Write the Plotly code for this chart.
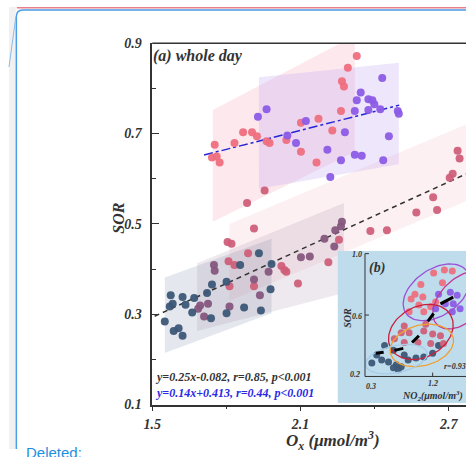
import numpy as np
import plotly.graph_objects as go

W, H = 466, 457

# ---------------- Panel (a): whole day ----------------
pink_x = [1.753, 1.742, 1.761, 1.773, 1.833, 1.868, 1.904, 1.924, 1.963, 1.975, 2.043, 2.102,
          2.173, 2.229, 2.165, 2.102, 2.264, 2.328, 2.292, 2.268, 2.276]
pink_y = [0.675, 0.647, 0.649, 0.636, 0.679, 0.703, 0.703, 0.694, 0.683, 0.679, 0.686, 0.724,
          0.733, 0.707, 0.636, 0.660, 0.750, 0.872, 0.846, 0.816, 0.804]

purple_x = [1.928, 1.963, 2.122, 2.047, 2.082, 2.209, 2.221, 2.264, 2.431, 2.344, 2.328, 2.375,
            2.391, 2.399, 2.320, 2.375, 2.423, 2.494, 2.498, 2.280, 2.458, 2.320, 2.348, 2.435]
purple_y = [0.737, 0.754, 0.728, 0.696, 0.679, 0.664, 0.604, 0.641, 0.823, 0.791, 0.774, 0.776,
            0.774, 0.765, 0.750, 0.752, 0.754, 0.750, 0.744, 0.703, 0.694, 0.653, 0.651, 0.641]

navy_x = [1.932, 1.856, 1.983, 1.801, 1.979, 1.940, 1.872, 1.801, 1.742, 1.722, 1.670, 1.623,
          1.575, 1.583, 1.571, 1.635, 1.662, 1.551, 1.587, 1.607, 1.623, 1.738]
navy_y = [0.435, 0.409, 0.411, 0.372, 0.355, 0.308, 0.315, 0.302, 0.366, 0.347, 0.336, 0.338,
          0.342, 0.323, 0.317, 0.321, 0.304, 0.284, 0.263, 0.269, 0.252, 0.291]

mauve_x = [1.750, 1.753, 1.912, 1.936, 1.971, 1.686, 1.694, 1.726, 1.710, 1.813, 2.197, 2.241,
           2.264, 2.237, 2.102, 2.138, 2.268]
mauve_y = [0.409, 0.396, 0.377, 0.342, 0.394, 0.312, 0.319, 0.323, 0.295, 0.317, 0.467, 0.486,
           0.495, 0.450, 0.426, 0.428, 0.505]

rose_x = [1.955, 1.884, 1.912, 1.805, 1.821, 1.888, 1.809, 1.833, 2.023, 2.035, 2.043, 2.090,
          1.912, 1.813, 2.213, 2.256, 2.383, 2.450, 2.569, 2.653, 2.637, 2.704, 2.716, 2.736, 2.744]
rose_y = [0.574, 0.546, 0.490, 0.460, 0.456, 0.435, 0.417, 0.409, 0.407, 0.398, 0.394, 0.368,
          0.362, 0.362, 0.415, 0.465, 0.484, 0.486, 0.525, 0.531, 0.559, 0.602, 0.611, 0.662, 0.645]

# regression lines read from the printed equations: slope, intercept, x extent
fit_black = dict(slope=0.25, icpt=-0.082, x0=1.51, x1=2.77)
fit_blue = dict(slope=0.14, icpt=0.413, x0=1.71, x1=2.50)

# shaded parallelogram bands: x0, x1, top at x0, top at x1, bottom at x0, bottom at x1
band_x0 = [1.813, 1.7455, 1.932, 1.551, 1.682]
band_x1 = [2.770, 2.320, 2.498, 1.983, 2.276]
band_t0 = [0.500, 0.752, 0.825, 0.381, 0.413]
band_t1 = [0.720, 0.917, 0.857, 0.467, 0.546]
band_b0 = [0.330, 0.505, 0.578, 0.214, 0.263]
band_b1 = [0.550, 0.660, 0.632, 0.302, 0.347]
band_col = ['rgba(245,185,198,0.22)', 'rgba(248,190,202,0.35)', 'rgba(195,165,240,0.28)',
            'rgba(120,140,170,0.20)', 'rgba(140,110,140,0.15)']

x_ticks = [1.5, 2.1, 2.7]
x_minor = [1.8, 2.4]
y_ticks = [0.1, 0.3, 0.5, 0.7, 0.9]
y_minor = [0.2, 0.4, 0.6, 0.8]

# ---------------- Inset (b) ----------------
in_pink_x = [1.213, 1.356, 1.461, 1.043, 0.965, 0.913, 1.069, 1.239, 1.174, 1.017, 0.887, 1.082, 1.330]
in_pink_y = [0.874, 0.893, 0.887, 0.799, 0.736, 0.704, 0.717, 0.685, 0.654, 0.666, 0.622, 0.622, 0.811]
in_purple_x = [1.278, 1.435, 1.526, 1.369, 1.474, 1.239, 1.565, 1.461]
in_purple_y = [0.736, 0.748, 0.729, 0.673, 0.673, 0.641, 0.641, 0.622]
in_rose_x = [0.782, 0.887, 1.082, 1.200, 1.304, 0.691, 0.822, 1.004, 1.174, 1.343, 0.822, 1.108]
in_rose_y = [0.484, 0.484, 0.496, 0.477, 0.465, 0.446, 0.421, 0.421, 0.414, 0.414, 0.528, 0.540]
in_navy_x = [0.456, 0.522, 0.613, 0.717, 0.678, 0.782, 0.874, 0.978, 1.082, 1.200, 0.561, 0.678,
             0.822, 1.278, 0.743, 0.391]
in_navy_y = [0.339, 0.307, 0.295, 0.276, 0.257, 0.263, 0.307, 0.320, 0.326, 0.351, 0.402, 0.370,
             0.339, 0.402, 0.244, 0.288]
# mean-shift arrows (start x, start y, end x, end y)
arr_x0 = [0.443, 0.691, 0.926, 1.135, 1.304]
arr_y0 = [0.351, 0.370, 0.421, 0.559, 0.673]
arr_x1 = [0.548, 0.809, 1.017, 1.213, 1.474]
arr_y1 = [0.357, 0.383, 0.465, 0.610, 0.717]
# ellipses: centre (data), semi-axes (px), tilt (deg), colour
ell_cx = [1.252, 1.591, 1.043, 1.056, 0.717]
ell_cy = [0.748, 0.698, 0.490, 0.402, 0.313]
ell_a = [38, 36, 35, 33, 32]
ell_b = [24, 22, 26, 21, 14]
ell_ang = [35, 45, 30, 15, 12]
ell_col = ['#9b4fd6', '#c0399a', '#c8203c', '#f0a030', '#a8cbe8']

C_PINK, C_PURPLE, C_NAVY, C_MAUVE, C_ROSE = '#ee6f80', '#8c5ce6', '#3c5777', '#86567e', '#cf5f79'

# ---------------- geometry ----------------
def px(x):
    return x / W

def py(y):
    return 1 - y / H

main_xr = [1.5, 2.770]
main_yr = [0.1, 0.9]
in_xr = [-0.0652, 1.6434]
in_yr = [0.0268, 1.0189]
SX = (in_xr[1] - in_xr[0]) / (W - 335)
SY = (in_yr[1] - in_yr[0]) / (409.5 - 252)

fig = go.Figure()

for i in range(len(band_x0)):
    fig.add_trace(go.Scatter(
        x=[band_x0[i], band_x1[i], band_x1[i], band_x0[i]],
        y=[band_t0[i], band_t1[i], band_b1[i], band_b0[i]],
        fill='toself', fillcolor=band_col[i], mode='lines', line=dict(width=0),
        hoverinfo='skip', showlegend=False))

for f, col, dash in [(fit_black, '#333333', '5px,4px'), (fit_blue, '#2626d6', 'dashdot')]:
    xs = [f['x0'], f['x1']]
    fig.add_trace(go.Scatter(x=xs, y=[f['slope'] * v + f['icpt'] for v in xs], mode='lines',
                             line=dict(color=col, width=1.5, dash=dash), showlegend=False))

def pts(x, y, c, xa='x', ya='y', size=8):
    fig.add_trace(go.Scatter(x=x, y=y, mode='markers', xaxis=xa, yaxis=ya, showlegend=False,
                             marker=dict(size=size, color=c, line=dict(width=0), opacity=0.95)))

pts(pink_x, pink_y, C_PINK)
pts(purple_x, purple_y, C_PURPLE)
pts(rose_x, rose_y, C_ROSE)
pts(mauve_x, mauve_y, C_MAUVE)
pts(navy_x, navy_y, C_NAVY)

# inset background
fig.add_trace(go.Scatter(x=[in_xr[0], in_xr[1], in_xr[1], in_xr[0]],
                         y=[in_yr[0], in_yr[0], in_yr[1], in_yr[1]],
                         fill='toself', fillcolor='#bedcec', mode='lines', line=dict(width=0),
                         xaxis='x2', yaxis='y2', hoverinfo='skip', showlegend=False))

pts(in_navy_x, in_navy_y, C_NAVY, 'x2', 'y2', 7)
pts(in_rose_x, in_rose_y, C_ROSE, 'x2', 'y2', 7)
pts(in_pink_x, in_pink_y, C_PINK, 'x2', 'y2', 7)
pts(in_purple_x, in_purple_y, C_PURPLE, 'x2', 'y2', 7)

t = np.linspace(0, 2 * np.pi, 90)
for i in range(len(ell_cx)):
    th = np.radians(ell_ang[i])
    dx = ell_a[i] * np.cos(t) * np.cos(th) - ell_b[i] * np.sin(t) * np.sin(th)
    dy = ell_a[i] * np.cos(t) * np.sin(th) + ell_b[i] * np.sin(t) * np.cos(th)
    fig.add_trace(go.Scatter(x=ell_cx[i] + dx * SX, y=ell_cy[i] + dy * SY, mode='lines',
                             line=dict(color=ell_col[i], width=1.3), xaxis='x2', yaxis='y2',
                             hoverinfo='skip', showlegend=False))

for i in range(len(arr_x0)):
    fig.add_trace(go.Scatter(x=[arr_x0[i], arr_x1[i]], y=[arr_y0[i], arr_y1[i]], mode='lines',
                             line=dict(color='black', width=3), xaxis='x2', yaxis='y2',
                             hoverinfo='skip', showlegend=False))

AX = '#333333'
tfont = dict(family='Liberation Serif', size=14, color=AX, weight='bold', style='italic')

fig.update_layout(
    width=W, height=H, margin=dict(l=0, r=0, t=0, b=0),
    paper_bgcolor='white', plot_bgcolor='rgba(0,0,0,0)', showlegend=False,
    xaxis=dict(domain=[px(146), 1], range=main_xr, tickvals=x_ticks, ticktext=[str(v) for v in x_ticks],
               ticks='outside', ticklen=5, tickwidth=1.3, tickcolor=AX, showline=True, linecolor=AX,
               linewidth=1.5, showgrid=False, zeroline=False, tickfont=tfont, anchor='y',
               ticklabelstandoff=1,
               minor=dict(tickvals=x_minor, ticks='outside', ticklen=3, tickcolor=AX, showgrid=False)),
    yaxis=dict(domain=[py(411), py(37.5)], range=main_yr, tickvals=y_ticks,
               ticktext=[str(v) for v in y_ticks],
               ticks='inside', ticklen=7, tickwidth=1.3, tickcolor=AX, showline=True, linecolor=AX,
               linewidth=1.5, showgrid=False, zeroline=False, tickfont=tfont, anchor='x',
               ticklabelstandoff=6,
               minor=dict(tickvals=y_minor, ticks='inside', ticklen=4, tickcolor=AX, showgrid=False)),
    xaxis2=dict(domain=[px(335), 1], range=in_xr, visible=False, anchor='y2'),
    yaxis2=dict(domain=[py(409.5), py(252)], range=in_yr, visible=False, anchor='x2'),
)

shapes = [
    # page chrome
    dict(type='rect', xref='paper', yref='paper', x0=0, x1=px(7), y0=0, y1=1,
         fillcolor='#f1f1f1', line=dict(width=0), layer='below'),
    dict(type='line', xref='paper', yref='paper', x0=px(8), x1=1, y0=py(0.7), y1=py(0.7),
         line=dict(color='#e8808a', width=1.5)),
    dict(type='path', xref='paper', yref='paper',
         path=f'M {px(7.5)},0 L {px(7.5)},{py(10)} Q {px(7.5)},{py(3)} {px(14)},{py(3)} L 1,{py(3)}',
         line=dict(color='#4a9be8', width=1.5)),
    dict(type='line', xref='paper', yref='paper', x0=px(7), y0=py(10), x1=0, y1=py(62),
         line=dict(color='#8bbbe8', width=1)),
    # top frame of panel (a)
    dict(type='line', xref='paper', yref='paper', x0=px(146), x1=1, y0=py(37.5), y1=py(37.5),
         line=dict(color=AX, width=1.5)),
    # inset axes
    dict(type='line', xref='x2', yref='y2', x0=0.3, x1=0.3, y0=0.2, y1=1.0, line=dict(color=AX, width=1)),
    dict(type='line', xref='x2', yref='y2', x0=0.3, x1=in_xr[1], y0=0.2, y1=0.2, line=dict(color=AX, width=1)),
]
for v in [0.6, 1.0]:
    shapes.append(dict(type='line', xref='x2', yref='y2', x0=0.3, x1=0.3 + 4 * SX, y0=v, y1=v,
                       line=dict(color=AX, width=1)))
shapes.append(dict(type='line', xref='x2', yref='y2', x0=1.2, x1=1.2, y0=0.2, y1=0.2 + 4 * SY,
                   line=dict(color=AX, width=1)))
fig.update_layout(shapes=shapes)

def ann(text, x, y, size, color=AX, xanchor='center', yanchor='middle', angle=0, family='Liberation Serif',
        bold=True, italic=True):
    fig.add_annotation(text=text, x=x, y=y, xref='paper', yref='paper', showarrow=False,
                       xanchor=xanchor, yanchor=yanchor, textangle=angle, borderpad=0,
                       font=dict(family=family, size=size, color=color,
                                 weight='bold' if bold else 'normal',
                                 style='italic' if italic else 'normal'))

ann('(a) whole day', px(146), py(51), 16, xanchor='left')
ann('SOR', px(112), py(218), 16, angle=-90)
ann('O<sub>x</sub> (μmol/m<sup>3</sup>)', px(330), py(448), 17)
ann('y=0.25x-0.082, r=0.85, p<0.001', px(148), py(383), 12, xanchor='left')
ann('y=0.14x+0.413, r=0.44, p<0.001', px(148), py(399), 12, color='#2a2ae6', xanchor='left')
ann('Deleted:', px(16), py(451), 15, color='#1e8fe0', xanchor='left', yanchor='top',
    family='Liberation Sans', bold=False, italic=False)

# inset text
ann('(b)', px(366), py(270), 14, xanchor='left')
ann('SOR', px(345), py(321), 10, angle=-90)
ann('1.0', px(361), py(256), 8, xanchor='right')
ann('0.6', px(361), py(320), 8, xanchor='right')
ann('0.2', px(359), py(380), 8, xanchor='right')
ann('0.3', px(369), py(392), 8)
ann('1.2', px(432), py(389), 8)
ann('NO<sub>2</sub>(μmol/m<sup>3</sup>)', px(432), py(402), 10)
ann('r=0.93', px(443), py(372), 8, xanchor='left')

fig.write_html('out.html')
